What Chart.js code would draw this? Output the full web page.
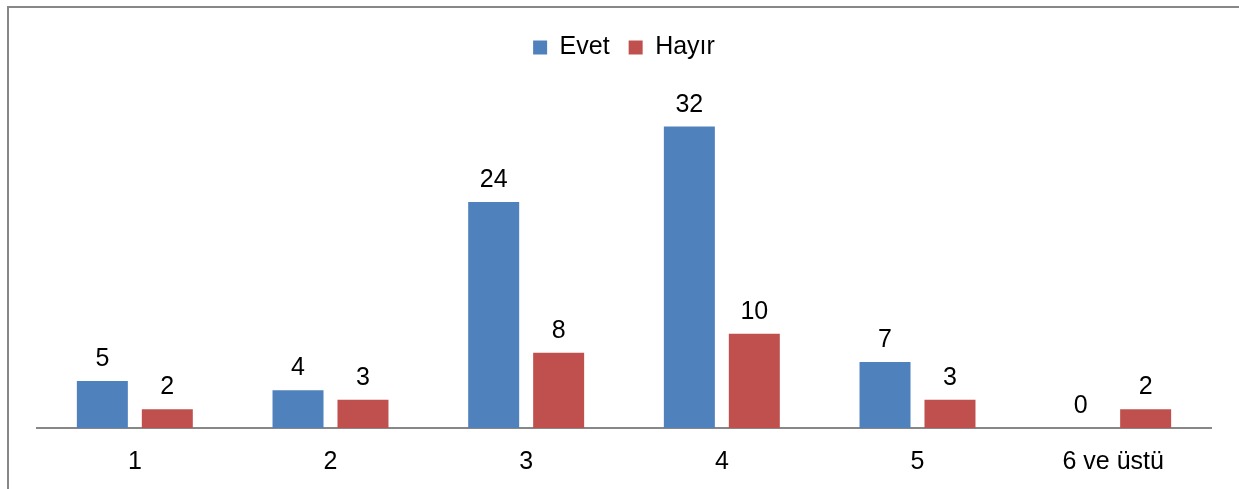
<!DOCTYPE html>
<html>
<head>
<meta charset="utf-8">
<script src="https://cdn.jsdelivr.net/npm/chart.js@4"></script>
<style>
    body { margin: 0; background: #fff; overflow: hidden; }
    #frame {
        position: absolute; left: 7px; top: 6px; width: 1300px; height: 600px;
        border-top: 2px solid #878787; border-left: 2px solid #878787;
    }
    #grafico { position: absolute; left: 0; top: 0; }
</style>
</head>
<body>
<div id="frame"></div>
<canvas id="grafico" width="1239" height="496"></canvas>
<script>
// Categorías y valores por serie
const categorias = ['1', '2', '3', '4', '5', '6 ve üstü'];
const evet = [5, 4, 24, 32, 7, 0];
const hayir = [2, 3, 8, 10, 3, 2];

const fuente = "'Liberation Sans', Arial, sans-serif";

// Escribe el valor encima de cada barra
const etiquetasValor = {
    id: 'etiquetasValor',
    afterDatasetsDraw(chart) {
        const ctx = chart.ctx;
        ctx.save();
        ctx.font = '25px ' + fuente;
        ctx.fillStyle = '#000';
        ctx.textAlign = 'center';
        ctx.textBaseline = 'alphabetic';
        chart.data.datasets.forEach(function(ds, i) {
            chart.getDatasetMeta(i).data.forEach(function(bar, j) {
                ctx.fillText(String(ds.data[j]), bar.x, bar.y - 15);
            });
        });
        ctx.restore();
    }
};

const ctx = document.getElementById('grafico').getContext('2d');
new Chart(ctx, {
    type: 'bar',
    data: {
        labels: categorias,
        datasets: [
            { label: 'Evet', data: evet, backgroundColor: '#4F81BD' },
            { label: 'Hayır', data: hayir, backgroundColor: '#C0504D' }
        ]
    },
    options: {
        responsive: false,
        animation: false,
        categoryPercentage: 0.664,
        barPercentage: 0.785,
        layout: { padding: { left: 37, right: 28, top: 16, bottom: 0 } },
        plugins: {
            legend: {
                position: 'top',
                labels: {
                    boxWidth: 14,
                    boxHeight: 14,
                    padding: 19,
                    color: '#000',
                    font: { family: fuente, size: 25 }
                }
            },
            tooltip: { enabled: false }
        },
        scales: {
            x: {
                grid: { display: false, drawTicks: false },
                border: { color: '#878787', width: 2 },
                ticks: { color: '#000', padding: 19, font: { family: fuente, size: 25 } }
            },
            y: {
                display: false,
                min: 0,
                max: 38
            }
        }
    },
    plugins: [etiquetasValor]
});
</script>
</body>
</html>
